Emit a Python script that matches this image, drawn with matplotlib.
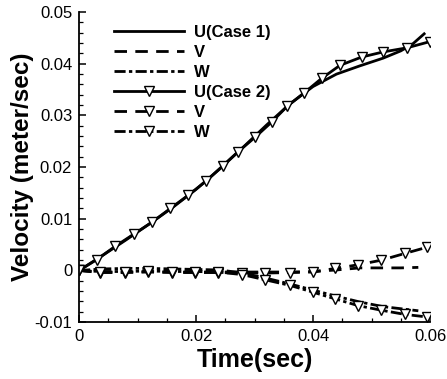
import matplotlib
matplotlib.use("Agg")
import matplotlib.pyplot as plt
from matplotlib.ticker import MultipleLocator, FuncFormatter

# ── Data ──────────────────────────────────────────────────────────────────────
# Case 1: plain lines
t1 = [0, 0.004, 0.008, 0.012, 0.016, 0.020, 0.024, 0.028, 0.032, 0.036,
      0.040, 0.044, 0.048, 0.052, 0.055, 0.057, 0.059]
u1 = [0, 0.0029, 0.0059, 0.0090, 0.0122, 0.0157, 0.0196, 0.0238, 0.0281, 0.0322,
      0.0356, 0.0380, 0.0396, 0.0411, 0.0425, 0.0438, 0.0458]

tvw1 = [0, 0.004, 0.008, 0.012, 0.016, 0.020, 0.024, 0.028, 0.032, 0.036,
        0.040, 0.044, 0.048, 0.052, 0.055, 0.058]
v1 = [0, -0.0003, -0.0003, -0.0002, -0.0003, -0.0003, -0.0003, -0.0003, -0.0003,
      -0.0003, -0.0002, 0.0001, 0.0005, 0.0005, 0.0005, 0.0006]
w1 = [0, 0.0003, 0.0004, 0.0004, 0.0003, 0.0002, 0.0001, -0.0005, -0.0015,
      -0.0026, -0.0038, -0.0050, -0.0061, -0.0070, -0.0074, -0.0078]

# Case 2: lines with open down-triangles
t2 = [0, 0.0030, 0.0062, 0.0093, 0.0124, 0.0156, 0.0187, 0.0217, 0.0246, 0.0272,
      0.0301, 0.0329, 0.0356, 0.0385, 0.0415, 0.0446, 0.0483, 0.0520, 0.0561, 0.0600]
u2 = [0, 0.0021, 0.0047, 0.0070, 0.0093, 0.0120, 0.0146, 0.0173, 0.0203, 0.0230,
      0.0258, 0.0287, 0.0318, 0.0344, 0.0372, 0.0397, 0.0413, 0.0423, 0.0431, 0.0443]

tvw2 = [0, 0.0036, 0.0079, 0.0118, 0.0159, 0.0198, 0.0238, 0.0279, 0.0318, 0.0361,
        0.0400, 0.0438, 0.0477, 0.0517, 0.0557, 0.0595]
v2 = [0, -0.0004, -0.0004, -0.0003, -0.0004, -0.0004, -0.0004, -0.0005, -0.0005,
      -0.0004, -0.0003, 0.0004, 0.0011, 0.0020, 0.0033, 0.0045]
w2 = [0, -0.0002, -0.0002, -0.0001, -0.0002, -0.0002, -0.0003, -0.0008, -0.0018,
      -0.0029, -0.0042, -0.0055, -0.0068, -0.0077, -0.0085, -0.0090]

# ── Styling ───────────────────────────────────────────────────────────────────
plt.rcParams["font.family"] = ["Liberation Sans", "DejaVu Sans"]
LW = 2.0
DASH = (0, (4.5, 3))
DASHDOT = (0, (4, 1.2, 1.2, 1.2))
mk = dict(marker="v", markersize=7, markerfacecolor="white",
          markeredgecolor="black", markeredgewidth=1.0)

fig = plt.figure(figsize=(4.47, 3.79), dpi=100)
ax = fig.add_axes([0.177, 0.150, 0.785, 0.818])

ax.plot(t1, u1, color="black", lw=LW, label="U(Case 1)")
ax.plot(tvw1, v1, color="black", lw=LW, ls=DASH, label="V")
ax.plot(tvw1, w1, color="black", lw=LW, ls=DASHDOT, label="W")
ax.plot(t2, u2, color="black", lw=LW, label="U(Case 2)", **mk)
ax.plot(tvw2, v2, color="black", lw=LW, ls=DASH, label="V", **mk)
ax.plot(tvw2, w2, color="black", lw=LW, ls=DASHDOT, label="W", **mk)

ax.set_xlim(0, 0.06)
ax.set_ylim(-0.01, 0.05)
ax.xaxis.set_major_locator(MultipleLocator(0.02))
ax.xaxis.set_minor_locator(MultipleLocator(0.005))
ax.yaxis.set_major_locator(MultipleLocator(0.01))
ax.yaxis.set_minor_locator(MultipleLocator(0.002))
fmt = FuncFormatter(lambda v, p: "0" if abs(v) < 1e-12 else f"{v:g}")
ax.xaxis.set_major_formatter(fmt)
ax.yaxis.set_major_formatter(fmt)

for s in ("top", "right"):
    ax.spines[s].set_visible(False)
for s in ("left", "bottom"):
    ax.spines[s].set_linewidth(1.3)
ax.tick_params(which="major", direction="in", length=5, width=1.1, labelsize=12, pad=5)
ax.tick_params(which="minor", direction="in", length=3, width=0.9)

ax.set_xlabel("Time(sec)", fontsize=18, fontweight="bold", labelpad=3)
ax.set_ylabel("Velocity (meter/sec)", fontsize=17.5, fontweight="bold", labelpad=0)

ax.legend(loc="upper left", bbox_to_anchor=(0.075, 0.985), frameon=False,
          numpoints=1, handlelength=4.2, handletextpad=0.6, labelspacing=0.3,
          borderpad=0, prop={"weight": "bold", "size": 12})

fig.savefig("out.png", dpi=100, facecolor="white")
